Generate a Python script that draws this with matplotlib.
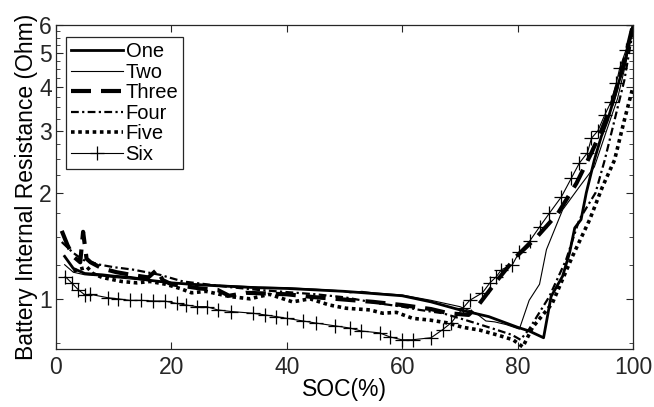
import matplotlib
matplotlib.use("Agg")
import matplotlib.pyplot as plt
from matplotlib.ticker import FixedLocator, FixedFormatter, NullFormatter

plt.rcParams['font.family'] = ['Liberation Sans', 'DejaVu Sans']

# --- data (SOC %, resistance Ohm) ---
soc_one = [1.5, 3, 5, 8, 10, 13, 16, 20, 25, 30, 35, 40, 45, 50, 55, 60, 65, 70, 75,
           80, 82, 84.5, 85.8, 87.8, 89, 89.9, 91, 91.9, 93.3, 94.5, 95.6, 96.8, 98.5, 100]
r_one = [1.32, 1.22, 1.18, 1.17, 1.16, 1.15, 1.13, 1.11, 1.095, 1.085, 1.075, 1.07, 1.06,
         1.05, 1.035, 1.02, 0.98, 0.93, 0.89, 0.83, 0.81, 0.775, 1.015, 1.16, 1.35, 1.59,
         1.68, 2.0, 2.48, 2.89, 3.22, 3.75, 4.67, 6.0]

soc_two = [1.5, 3, 5, 8, 10, 15, 20, 25, 30, 35, 40, 45, 49, 51, 53, 55, 60, 65, 70,
           72.8, 74.5, 76, 78, 80.3, 82, 83.8, 85, 87.8, 90.7, 93.3, 95.4, 97.3, 98.8, 100]
r_two = [1.25, 1.19, 1.17, 1.16, 1.15, 1.13, 1.11, 1.10, 1.09, 1.08, 1.075, 1.065, 1.055,
         1.04, 1.05, 1.04, 1.025, 0.99, 0.95, 0.91, 0.865, 0.86, 0.845, 0.82, 0.99, 1.1,
         1.38, 1.79, 2.08, 2.37, 3.0, 3.7, 4.7, 6.0]

soc_three = [1, 2, 3, 4.2, 4.7, 5.3, 6, 8, 10.5, 13, 16, 17.5, 18.5, 20, 25, 28, 30, 33,
             40, 45, 50, 55, 60, 65, 68, 71.5, 73, 76.5, 79.8, 83.2, 87, 90.2, 92.8, 94.5,
             96.4, 98.3, 100]
r_three = [1.56, 1.42, 1.32, 1.27, 1.55, 1.3, 1.27, 1.22, 1.19, 1.17, 1.15, 1.21, 1.13,
           1.10, 1.07, 1.06, 1.02, 1.04, 1.03, 1.01, 0.995, 0.98, 0.96, 0.935, 0.91, 0.90,
           0.95, 1.13, 1.32, 1.49, 1.75, 2.13, 2.6, 3.0, 3.6, 4.6, 6.0]

soc_four = [1, 3, 4.7, 7.6, 10, 13.4, 18, 22, 26, 30, 35, 40, 45, 50, 56, 60, 63, 67, 70,
            73, 76, 79, 80.5, 82, 85.5, 88.4, 90.7, 93.5, 95.1, 96.8, 98.5, 100]
r_four = [1.45, 1.35, 1.29, 1.25, 1.23, 1.21, 1.17, 1.12, 1.10, 1.08, 1.06, 1.045, 1.03,
          1.01, 0.97, 0.95, 0.93, 0.91, 0.88, 0.85, 0.82, 0.79, 0.765, 0.82, 1.015, 1.29,
          1.68, 2.0, 2.48, 3.22, 4.18, 5.8]

soc_five = [3, 5.4, 6.4, 8, 11.4, 14, 16.3, 19, 21.5, 23.5, 26, 30.1, 33.6, 37, 41, 44,
            47.4, 50.3, 54.4, 56.6, 59, 61.8, 64.8, 67.7, 70.5, 73.4, 76.4, 79.2, 80.9,
            82.6, 86, 89.5, 92.5, 94.7, 96.8, 98.5, 100]
r_five = [1.2, 1.23, 1.18, 1.15, 1.12, 1.11, 1.12, 1.10, 1.07, 1.04, 1.05, 1.015, 1.0,
          1.03, 0.98, 1.0, 0.96, 0.94, 0.93, 0.91, 0.915, 0.88, 0.87, 0.855, 0.83, 0.815,
          0.79, 0.765, 0.73, 0.83, 0.97, 1.32, 1.68, 2.08, 2.48, 3.22, 4.0]

soc_six = [1.6, 2.7, 3.9, 5.0, 5.9, 9.0, 10.7, 12.8, 14.8, 16.8, 18.9, 20.9, 22.6, 24.4,
           26.1, 28, 30.4, 34.1, 36.2, 38.2, 40, 42.8, 45.1, 48.3, 50.9, 52.9, 56.1, 57.8,
           59.9, 61.8, 65, 67, 68.5, 70.5, 71.7, 73.9, 75.2, 76.3, 77.2, 79.1, 80.3, 82.1,
           83.8, 85.5, 87.6, 89.3, 90.7, 92.1, 92.8, 93.9, 95.1, 96.2, 97.1, 97.7, 98.8, 100]
r_six = [1.157, 1.11, 1.06, 1.026, 1.03, 1.007, 1.0, 0.99, 0.99, 0.986, 0.985, 0.97, 0.96,
         0.95, 0.95, 0.93, 0.92, 0.91, 0.90, 0.89, 0.88, 0.865, 0.853, 0.838, 0.826, 0.81,
         0.80, 0.78, 0.765, 0.765, 0.775, 0.817, 0.855, 0.94, 0.99, 1.04, 1.11, 1.155,
         1.21, 1.25, 1.36, 1.46, 1.6, 1.75, 1.95, 2.2, 2.43, 2.6, 2.86, 3.0, 3.33, 3.63,
         4.1, 4.53, 5.1, 6.0]

y_major = [1, 2, 3, 4, 5, 6]
y_minor = [0.75, 1.25, 1.5, 1.75, 2.25, 2.5, 2.75, 3.25, 3.5, 3.75, 4.25, 4.5, 4.75,
           5.25, 5.5, 5.75]
x_major = [0, 20, 40, 60, 80, 100]

fig = plt.figure(figsize=(6.54, 4.07), dpi=100)
ax = fig.add_axes([0.0856, 0.1425, 0.8823, 0.7961])

ax.plot(soc_one, r_one, color='k', lw=2.0, label='One')
ax.plot(soc_two, r_two, color='k', lw=0.8, label='Two')
ax.plot(soc_three, r_three, color='k', lw=3.0, ls=(0, (4.8, 2.4)), label='Three')
ax.plot(soc_four, r_four, color='k', lw=1.6, ls=(0, (3.5, 1.5, 1, 1.5)), label='Four')
ax.plot(soc_five, r_five, color='k', lw=2.6, ls=(0, (1, 1)), label='Five')
ax.plot(soc_six, r_six, color='k', lw=0.8, marker='+', ms=10, mew=0.9, label='Six')

ax.set_yscale('log')
ax.set_xlim(0, 100)
ax.set_ylim(0.72, 6)
ax.yaxis.set_major_locator(FixedLocator(y_major))
ax.yaxis.set_major_formatter(FixedFormatter([str(v) for v in y_major]))
ax.yaxis.set_minor_locator(FixedLocator(y_minor))
ax.yaxis.set_minor_formatter(NullFormatter())
ax.set_xticks(x_major)

for s in ax.spines.values():
    s.set_color('#262626')
    s.set_linewidth(0.9)
ax.tick_params(which='both', direction='in', top=True, right=True, colors='#262626',
               labelcolor='#262626', labelsize=16.5)
ax.tick_params(which='major', length=5, width=0.8)
ax.tick_params(which='minor', length=3, width=0.6)
ax.tick_params(axis='x', pad=5)
ax.tick_params(axis='y', pad=3)

ax.set_xlabel('SOC(%)', fontsize=16.5, labelpad=-1)
ax.set_ylabel('Battery Internal Resistance (Ohm)', fontsize=16.5, labelpad=1)

leg = ax.legend(loc='upper left', bbox_to_anchor=(0.017, 0.963), borderaxespad=0,
                fontsize=14.5, handlelength=2.6, handletextpad=0.12, labelspacing=0.08,
                borderpad=0.25, fancybox=False, framealpha=1)
leg.get_frame().set_edgecolor('#262626')
leg.get_frame().set_linewidth(0.9)

fig.savefig('out.png', dpi=100)
